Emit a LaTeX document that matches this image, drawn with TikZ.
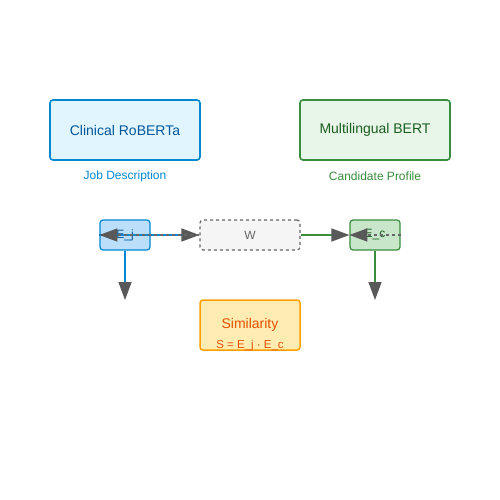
\documentclass[tikz,border=0pt]{standalone}
\usepackage{fontspec}
\setmainfont{Liberation Sans}
\usetikzlibrary{arrows.meta}
\definecolor{bstroke}{HTML}{0288D1}
\definecolor{bfill}{HTML}{E1F5FE}
\definecolor{btext}{HTML}{01579B}
\definecolor{gstroke}{HTML}{388E3C}
\definecolor{gfill}{HTML}{E8F5E9}
\definecolor{gtext}{HTML}{1B5E20}
\definecolor{ejfill}{HTML}{BBDEFB}
\definecolor{ecfill}{HTML}{C8E6C9}
\definecolor{wfill}{HTML}{F5F5F5}
\definecolor{wstroke}{HTML}{666666}
\definecolor{sfill}{HTML}{FFECB3}
\definecolor{sstroke}{HTML}{FFA000}
\definecolor{stext}{HTML}{E65100}
\definecolor{agray}{HTML}{595959}
\tikzset{
  box/.style={rounded corners=3pt, inner sep=0pt, font=\fontsize{14}{16}\selectfont},
  bigbox/.style={box, line width=1.6pt, minimum width=150pt, minimum height=60pt},
  smallbox/.style={box, line width=1.2pt, minimum width=50pt, minimum height=30pt, font=\fontsize{12}{14}\selectfont},
  lbl/.style={font=\fontsize{12}{14}\selectfont, inner sep=0pt},
  tip/.style={-{Triangle[length=18pt,width=13pt,fill=agray,color=agray]}},
  conn/.style={tip, line width=1.5pt},
  dconn/.style={tip, line width=1.5pt, draw=wstroke, dash pattern=on 3pt off 3pt},
}
\begin{document}
\begin{tikzpicture}[x=1pt,y=-1pt]
\useasboundingbox (0,0) rectangle (500,500);
\fill[white] (0,0) rectangle (500,500);

\node[bigbox, draw=bstroke, fill=bfill, text=btext] (rob) at (125,130) {Clinical RoBERTa};
\node[bigbox, draw=gstroke, fill=gfill, text=gtext] (bert) at (375,130) {Multilingual BERT};
\node[lbl, text=bstroke] (jd) at (125,176) {Job Description};
\node[lbl, text=gstroke] (cp) at (375,176) {Candidate Profile};

\node[smallbox, draw=bstroke, fill=ejfill, text=btext] (ej) at (125,235) {E\_j};
\node[smallbox, draw=wstroke, fill=wfill, text=wstroke, dash pattern=on 3pt off 3pt, minimum width=100pt] (w) at (250,235) {W};
\node[smallbox, draw=gstroke, fill=ecfill, text=gtext] (ec) at (375,235) {E\_c};

\node[box, draw=sstroke, fill=sfill, line width=1.5pt, minimum width=100pt, minimum height=50pt] (sim) at (250,325) {};
\node[text=stext, font=\fontsize{14}{16}\selectfont, inner sep=0pt] (simt) at (250,325) {Similarity};
\node[text=stext, font=\fontsize{11.5}{13}\selectfont, inner sep=0pt] (simf) at (250,346) {S = E\_j · E\_c};

\coordinate (ejb) at (125,300);
\coordinate (ecb) at (375,300);

\draw[conn, draw=bstroke] (ej.west) -- (w.west);
\draw[dconn] (w.west) -- (ej.west);
\draw[conn, draw=gstroke] (w.east) -- (ec.west);
\draw[dconn] (ec.east) -- (ec.west);
\draw[conn, draw=bstroke] (ej.south) -- (ejb);
\draw[conn, draw=gstroke] (ec.south) -- (ecb);
\end{tikzpicture}
\end{document}
